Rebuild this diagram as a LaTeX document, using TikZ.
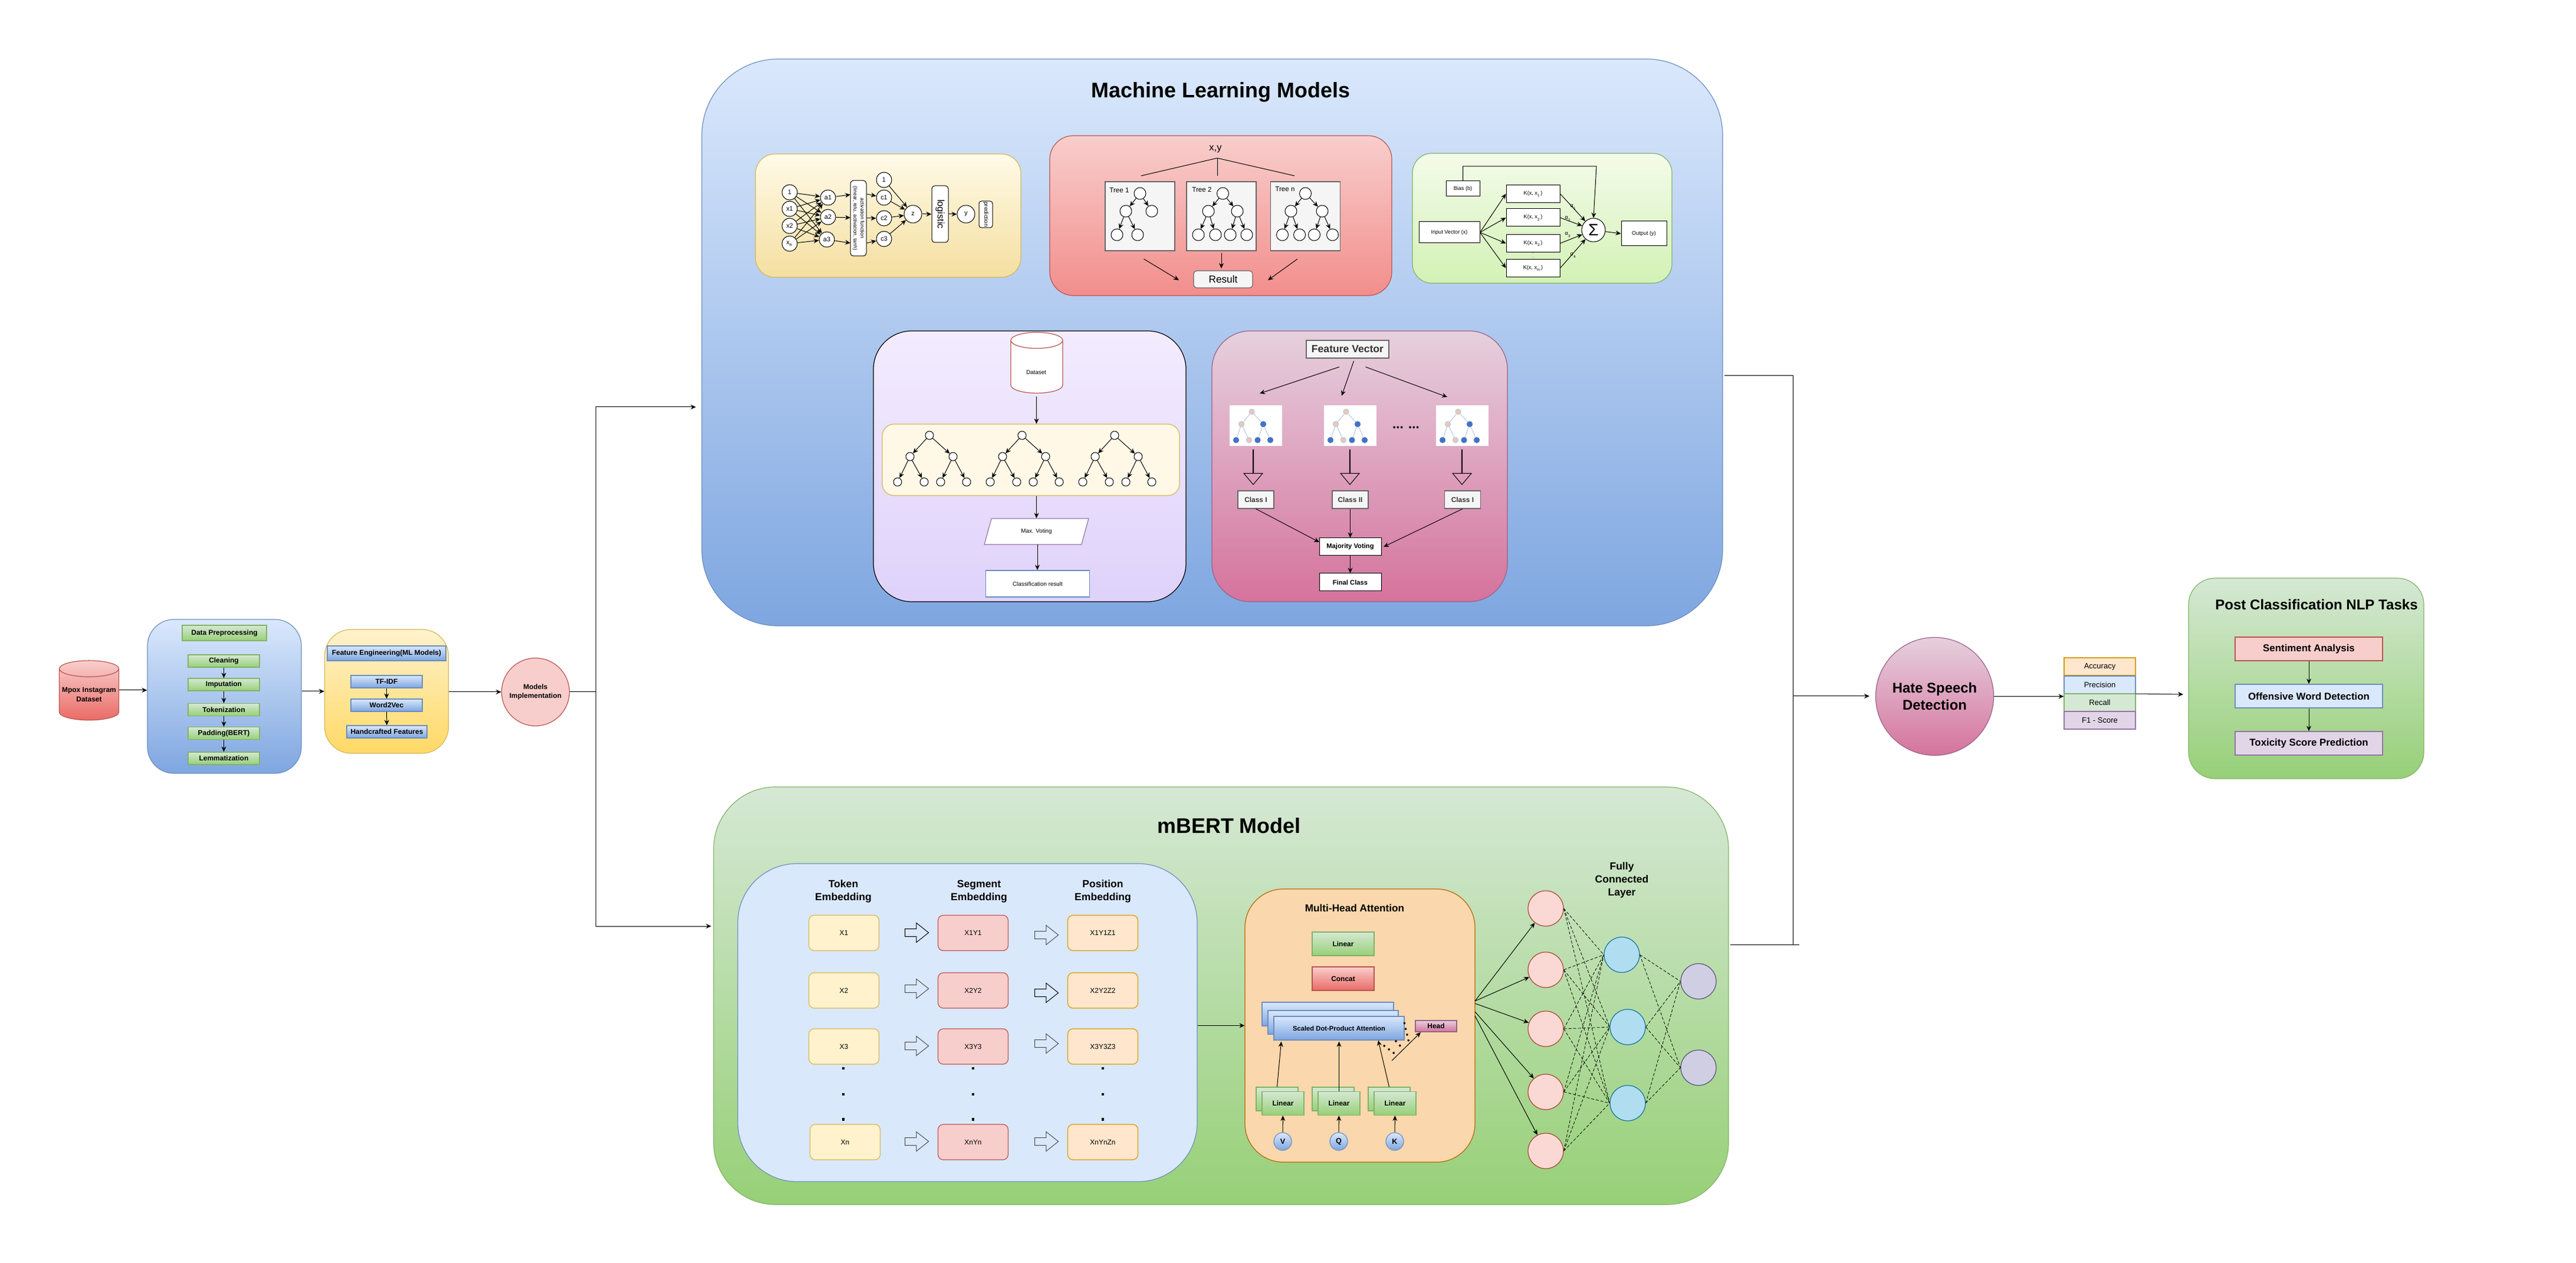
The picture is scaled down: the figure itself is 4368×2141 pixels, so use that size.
\documentclass[tikz,border=0pt]{standalone}
\usepackage{fontspec}
\setmainfont{Liberation Sans}
\usepackage{tikz}
\usetikzlibrary{positioning,shapes,arrows.meta}
\definecolor{bluetop}{HTML}{DAE8FC}
\definecolor{blueend}{HTML}{7EA6E0}
\definecolor{blueline}{HTML}{6C8EBF}
\definecolor{greentop}{HTML}{D5E8D4}
\definecolor{greenend}{HTML}{97D077}
\definecolor{greenline}{HTML}{82B366}
\definecolor{redtop}{HTML}{F8CECC}
\definecolor{redend}{HTML}{EA6B66}
\definecolor{redsoft}{HTML}{F28E8C}
\definecolor{redline}{HTML}{B85450}
\definecolor{yellowtop}{HTML}{FFF2CC}
\definecolor{yellowend}{HTML}{FFD966}
\definecolor{yellowline}{HTML}{D6B656}
\definecolor{nntop}{HTML}{FFFAE8}
\definecolor{nnend}{HTML}{F5DFA0}
\definecolor{svmtop}{HTML}{F4FBEA}
\definecolor{svmend}{HTML}{D3F2B5}
\definecolor{votetop}{HTML}{F3ECFE}
\definecolor{voteend}{HTML}{DFD2FB}
\definecolor{forestfill}{HTML}{FFF8E6}
\definecolor{pinktop}{HTML}{E6D0DE}
\definecolor{pinkend}{HTML}{D5739D}
\definecolor{pinkline}{HTML}{996185}
\definecolor{lilac}{HTML}{E1D5E7}
\definecolor{lilacline}{HTML}{9673A6}
\definecolor{peach}{HTML}{FFE6CC}
\definecolor{peachline}{HTML}{D79B00}
\definecolor{mhafill}{HTML}{FAD7AC}
\definecolor{mhaline}{HTML}{B46504}
\definecolor{greyfill}{HTML}{F5F5F5}
\definecolor{greyline}{HTML}{666666}
\definecolor{picpeachfill}{HTML}{F4C7A8}
\definecolor{picbluefill}{HTML}{4472C4}
\definecolor{picedge}{HTML}{B4C7E7}
\definecolor{neuronfill}{HTML}{FAD9D5}
\definecolor{neuronline}{HTML}{AE4132}
\definecolor{hiddenfill}{HTML}{B1DDF0}
\definecolor{hiddenline}{HTML}{10739E}
\definecolor{outfill}{HTML}{D0CEE2}
\definecolor{outline}{HTML}{56517E}
\tikzstyle{arrow} = [line width=.1mm,->]
\tikzstyle{thinline} = [line width=.1mm]
\tikzstyle{dashline} = [line width=.08mm,dash pattern=on .5mm off .3mm]
\tikzstyle{dotline} = [line width=.3mm,dash pattern=on .3mm off .7mm]
\tikzstyle{panel} = [rectangle, draw, inner sep=0, align=center]
\tikzstyle{bluefade} = [panel, top color=bluetop, bottom color=blueend, draw=blueline]
\tikzstyle{greenfade} = [panel, top color=greentop, bottom color=greenend, draw=greenline]
\tikzstyle{redfade} = [panel, top color=redtop, bottom color=redend, draw=redline]
\tikzstyle{yellowfade} = [panel, top color=yellowtop, bottom color=yellowend, draw=yellowline]
\tikzstyle{pinkfade} = [panel, top color=pinktop, bottom color=pinkend, draw=pinkline]
\tikzstyle{boldtext} = [font=\fontsize{3.4}{4.3}\selectfont\bfseries]
\tikzstyle{bigtitle} = [font=\fontsize{10.2}{12}\selectfont\bfseries]
\tikzstyle{midtitle} = [align=center, font=\fontsize{5}{6.2}\selectfont\bfseries]
\tikzstyle{prepblock} = [greenfade, boldtext, minimum width=12.1mm, minimum height=2.1mm]
\tikzstyle{featblock} = [bluefade, boldtext, minimum width=12.1mm, minimum height=2.1mm]
\tikzstyle{nncircle} = [circle, draw, fill=white, inner sep=0, minimum size=2.6mm, line width=.1mm, font=\fontsize{3.1}{4}\selectfont]
\tikzstyle{nnbig} = [nncircle, minimum size=3mm]
\tikzstyle{treenode} = [circle, draw, fill=white, inner sep=0, minimum size=2mm, line width=.1mm]
\tikzstyle{forestnode} = [treenode, minimum size=1.4mm]
\tikzstyle{treebox} = [panel, fill=greyfill, draw=greyline, minimum width=11.8mm, minimum height=11.7mm]
\tikzstyle{treelabel} = [font=\fontsize{3.3}{4}\selectfont]
\tikzstyle{svmbox} = [panel, fill=white, line width=.1mm, font=\fontsize{2.6}{3.2}\selectfont]
\tikzstyle{kernel} = [svmbox, minimum width=9.1mm, minimum height=3mm]
\tikzstyle{alphalabel} = [font=\fontsize{2.6}{3.2}\selectfont]
\tikzstyle{plainbox} = [font=\fontsize{2.8}{3.4}\selectfont]
\tikzstyle{picbox} = [rectangle, fill=white, inner sep=0, minimum width=8.9mm, minimum height=6.9mm]
\tikzstyle{picpeach} = [circle, draw=picedge, fill=picpeachfill, inner sep=0, minimum size=.9mm]
\tikzstyle{picblue} = [circle, draw=picbluefill, fill=picbluefill, inner sep=0, minimum size=.9mm]
\tikzstyle{picline} = [line width=.1mm, draw=picedge]
\tikzstyle{downblock} = [single arrow, draw, shape border rotate=270, inner xsep=0, inner ysep=.5mm, minimum height=5.9mm, minimum width=3.2mm, single arrow head extend=1.1mm, single arrow tip angle=80, line width=.1mm]
\tikzstyle{rightblock} = [single arrow, draw=black!70, inner xsep=0, inner ysep=.6mm, minimum height=4mm, minimum width=3.2mm, single arrow head extend=1mm, single arrow tip angle=77, line width=.1mm]
\tikzstyle{classbox} = [panel, boldtext, fill=greyfill, draw=greyline, text=black!80, minimum width=6.1mm, minimum height=3mm]
\tikzstyle{voteblock} = [panel, fill=white, line width=.1mm, font=\fontsize{3.2}{4}\selectfont\bfseries, minimum width=10.5mm, minimum height=3mm]
\tikzstyle{embedblock} = [panel, rounded corners=.9mm, minimum width=11.9mm, minimum height=6mm, font=\fontsize{3.4}{4}\selectfont]
\tikzstyle{tokenbox} = [embedblock, fill=yellowtop, draw=yellowline]
\tikzstyle{segmentbox} = [embedblock, fill=redtop, draw=redline]
\tikzstyle{positionbox} = [embedblock, fill=peach, draw=peachline]
\tikzstyle{embeddot} = [rectangle, fill=black, inner sep=0, minimum size=.45mm]
\tikzstyle{linearblock} = [greenfade, boldtext, minimum width=7.1mm, minimum height=4mm]
\tikzstyle{attnblock} = [bluefade, font=\fontsize{3.2}{4}\selectfont\bfseries]
\tikzstyle{inputcircle} = [circle, top color=bluetop, bottom color=blueend, draw=blueline, inner sep=0, minimum size=3mm, font=\fontsize{3.6}{4}\selectfont\bfseries]
\tikzstyle{pinkcircle} = [circle, draw=neuronline, fill=neuronfill, inner sep=0, minimum size=6mm]
\tikzstyle{bluecircle} = [circle, draw=hiddenline, fill=hiddenfill, inner sep=0, minimum size=6mm]
\tikzstyle{purplecircle} = [circle, draw=outline, fill=outfill, inner sep=0, minimum size=6mm]
\tikzstyle{metricblock} = [panel, minimum width=12.1mm, minimum height=3mm, font=\fontsize{3.7}{4.4}\selectfont]
\tikzstyle{taskblock} = [panel, minimum width=25mm, minimum height=4mm, font=\fontsize{4.8}{6}\selectfont\bfseries]
\begin{document}
\begin{tikzpicture}[x=.1mm, y=-.1mm, line width=.12mm, >={Stealth[length=.9mm,width=.8mm]}]
     \useasboundingbox (0,0) rectangle (4368,2141);

     \node [redfade, boldtext, cylinder, shape border rotate=90, aspect=.3, minimum width=10.1mm, minimum height=10.1mm] (dataset) at (151,1177.5) {Mpox Instagram\\Dataset};

     \node [bluefade, rounded corners=4.5mm, minimum width=26.1mm, minimum height=26.1mm] (prepbox) at (380.5,1180.5) { };
     \node [greenfade, boldtext, minimum width=14.3mm, minimum height=2.6mm] (preptitle) at (380.5,1073) {Data Preprocessing};
     \node [prepblock] (cleaning) at (379.5,1120.5) {Cleaning};
     \node [prepblock] (imputation) at (379.5,1160.5) {Imputation};
     \node [prepblock] (tokenization) at (379.5,1203) {Tokenization};
     \node [prepblock] (padding) at (379.5,1243) {Padding(BERT)};
     \node [prepblock] (lemmatization) at (379.5,1285.5) {Lemmatization};
     \draw [arrow] (cleaning) -- (imputation);
     \draw [arrow] (imputation) -- (tokenization);
     \draw [arrow] (tokenization) -- (padding);
     \draw [arrow] (padding) -- (lemmatization);
     \draw [arrow] (dataset.east |- 0,1170) -- (prepbox.west |- 0,1170);

     \node [yellowfade, rounded corners=4.5mm, minimum width=21mm, minimum height=21mm] (featbox) at (655.5,1172) { };
     \node [featblock, minimum width=20.1mm, minimum height=2.5mm] (feattitle) at (655.5,1107.5) {Feature Engineering(ML Models)};
     \node [featblock] (tfidf) at (655.5,1155.5) {TF-IDF};
     \node [featblock] (wordvec) at (655.5,1195.5) {Word2Vec};
     \node [featblock, minimum width=13.6mm] (handcrafted) at (656,1240.5) {Handcrafted Features};
     \draw [arrow] (tfidf) -- (wordvec);
     \draw [arrow] (wordvec) -- (handcrafted);
     \draw [arrow] (prepbox.east |- featbox.west) -- (featbox.west);

     \node [circle, draw=redline, fill=redtop, inner sep=0, minimum size=11.5mm, align=center, boldtext] (models) at (908,1173) {Models\\Implementation};
     \draw [arrow] (featbox.east |- models.west) -- (models.west);

     \coordinate (split) at (1010,1173);
     \coordinate (mlin) at (1180,690);
     \coordinate (bertin) at (1206,1570);
     \draw [thinline] (models.east) -- (split);
     \draw [arrow] (split) |- (mlin);
     \draw [arrow] (split) |- (bertin);

     \node [bluefade, rounded corners=13mm, minimum width=173.1mm, minimum height=96.1mm] (mlbox) at (2055.5,580.5) { };
     \node [bigtitle] (mltitle) at (2070,156) {Machine Learning Models};

     \node [panel, top color=nntop, bottom color=nnend, draw=yellowline, rounded corners=3.3mm, minimum width=45mm, minimum height=20.9mm] (nnbox) at (1506,365.5) { };
     \node [nncircle] (nnone) at (1339,326) {1};
     \node [nncircle] (nnxone) at (1339,354) {x1};
     \node [nncircle] (nnxtwo) at (1339,383) {x2};
     \node [nncircle] (nnxn) at (1339,413) {x\textsubscript{n}};
     \node [nncircle] (nnaone) at (1404,335) {a1};
     \node [nncircle] (nnatwo) at (1404,368) {a2};
     \node [nncircle] (nnathree) at (1402,406) {a3};
     \node [panel, fill=white, rotate=-90, rounded corners=.5mm, line width=.1mm, minimum width=12.8mm, minimum height=2.7mm, font=\fontsize{2.45}{3.4}\selectfont] (activation) at (1455.5,370) {activation function\\(linear, relu, activation, tanh)};
     \node [nncircle] (nntop) at (1499,305) {1};
     \node [nncircle] (nncone) at (1499,335) {c1};
     \node [nncircle] (nnctwo) at (1499,370) {c2};
     \node [nncircle] (nncthree) at (1499,405) {c3};
     \node [nnbig] (nnz) at (1548,363) {z};
     \node [panel, fill=white, rotate=-90, rounded corners=.5mm, line width=.1mm, minimum width=9.6mm, minimum height=2.8mm, font=\fontsize{4.6}{5}\selectfont] (logistic) at (1594,363) {logistic};
     \node [nnbig] (nny) at (1638,363) {y};
     \node [panel, fill=white, rotate=-90, rounded corners=.4mm, line width=.1mm, minimum width=4.5mm, minimum height=2.3mm, font=\fontsize{2.75}{3}\selectfont] (prediction) at (1671.5,363.5) {prediction};
     \foreach \s in {nnone,nnxone,nnxtwo,nnxn}
       \foreach \t in {nnaone,nnatwo,nnathree}
         \draw [arrow] (\s) -- (\t);
     \coordinate (actinone) at (1442,330);
     \coordinate (actintwo) at (1442,369);
     \coordinate (actinthree) at (1442,412);
     \coordinate (actoutone) at (1470,329);
     \coordinate (actouttwo) at (1470,370);
     \coordinate (actoutthree) at (1470,412);
     \draw [arrow] (nnaone) -- (actinone);
     \draw [arrow] (nnatwo) -- (actintwo);
     \draw [arrow] (nnathree) -- (actinthree);
     \draw [arrow] (actoutone) -- (nncone);
     \draw [arrow] (actouttwo) -- (nnctwo);
     \draw [arrow] (actoutthree) -- (nncthree);
     \foreach \s in {nntop,nncone,nnctwo,nncthree}
       \draw [arrow] (\s) -- (nnz);
     \draw [arrow] (nnz) -- (logistic);
     \draw [arrow] (logistic) -- (nny);

     \node [redfade, bottom color=redsoft, rounded corners=4mm, minimum width=58mm, minimum height=27.1mm] (rfbox) at (2070,365.5) { };
     \node [font=\fontsize{4.7}{5}\selectfont] (xylabel) at (2061,253) {x,y};
     \coordinate (xyfork) at (2064,268);
     \coordinate (xyleft) at (1935,298);
     \coordinate (xymid) at (2064,298);
     \coordinate (xyright) at (2195,298);
     \draw [thinline] (xyfork) -- (xyleft);
     \draw [thinline] (xyfork) -- (xymid);
     \draw [thinline] (xyfork) -- (xyright);
     \node [treebox] (treeone) at (1933,366.5) { };
     \node [treebox] (treetwo) at (2071,366.5) { };
     \node [treebox] (treen) at (2213.5,366.5) { };
     \node [treelabel] (treeonelabel) at (1898,323) {Tree 1};
     \node [treelabel] (treetwolabel) at (2038,322) {Tree 2};
     \node [treelabel] (treenlabel) at (2179,321) {Tree n};
     \foreach \n/\x/\y in {r/1933/328,a/1909/358,b/1953/358,c/1894/398,d/1929/398}
       \node [treenode] (one\n) at (\x,\y) { };
     \foreach \a/\b in {r/a,r/b,a/c,a/d}
       \draw [arrow] (one\a) -- (one\b);
     \foreach \n/\x/\y in {r/2073.5/328,a/2049/358,b/2098/358,c/2032/398,d/2061/398,e/2086/398,f/2114/398}
       \node [treenode] (two\n) at (\x,\y) { };
     \foreach \n/\x/\y in {r/2213.5/328,a/2189/358,b/2242/358,c/2174.5/398,d/2203.6/398,e/2228.5/398,f/2259.5/398}
       \node [treenode] (last\n) at (\x,\y) { };
     \foreach \t in {two,last}
       \foreach \a/\b in {r/a,r/b,a/c,a/d,b/e,b/f}
         \draw [arrow] (\t\a) -- (\t\b);
     \node [panel, fill=greyfill, draw=greyline, rounded corners=.6mm, minimum width=10mm, minimum height=2.9mm, font=\fontsize{4.9}{5}\selectfont] (result) at (2074,473.5) {Result};
     \coordinate (fromone) at (1939.5,439);
     \coordinate (toone) at (1999,475);
     \coordinate (fromtwo) at (2071,429);
     \coordinate (totwo) at (2071,455);
     \coordinate (fromn) at (2200,439);
     \coordinate (ton) at (2150,475);
     \draw [arrow] (fromone) -- (toone);
     \draw [arrow] (fromtwo) -- (totwo);
     \draw [arrow] (fromn) -- (ton);

     \node [panel, top color=svmtop, bottom color=svmend, draw=greenline, rounded corners=3.3mm, minimum width=44mm, minimum height=22mm] (svmpanel) at (2615,370) { };
     \node [svmbox, minimum width=5.7mm, minimum height=2.6mm] (bias) at (2480.5,320) {Bias (b)};
     \node [svmbox, minimum width=10.3mm, minimum height=3.6mm] (inputvec) at (2457.5,394) {Input Vector (x)};
     \node [kernel] (kone) at (2599.5,328.5) {K(x, x\textsubscript{1})};
     \node [kernel] (ktwo) at (2599.5,369) {K(x, x\textsubscript{2})};
     \node [kernel] (kthree) at (2599.5,412.5) {K(x, x\textsubscript{3})};
     \node [kernel] (km) at (2599.5,454.5) {K(x, x\textsubscript{m})};
     \node [circle, draw, fill=white, inner sep=0, minimum size=4mm, line width=.1mm, font=\fontsize{8}{9}\selectfont] (sigma) at (2702,390) {Σ};
     \node [svmbox, minimum width=7.7mm, minimum height=4.2mm] (output) at (2787.5,396) {Output (y)};
     \node [alphalabel] (alphaone) at (2668,351) {α\textsubscript{1}};
     \node [alphalabel] (alphatwo) at (2659,371) {α\textsubscript{2}};
     \node [alphalabel] (alphathree) at (2659,398) {α\textsubscript{3}};
     \node [alphalabel] (alphafour) at (2668,433) {α\textsubscript{4}};
     \coordinate (biastop) at (2707,282);
     \draw [arrow] (bias.north) |- (biastop) -- (sigma.north);
     \foreach \k in {kone,ktwo,kthree,km} {
       \draw [arrow] (inputvec.east) -- (\k.west);
       \draw [arrow] (\k.east) -- (sigma);
     }
     \draw [line width=.08mm, dotted, greyline] (kthree.south) -- (km.north);
     \draw [arrow] (sigma) -- (output.west);

     \node [panel, top color=votetop, bottom color=voteend, rounded corners=6.5mm, minimum width=53mm, minimum height=45.9mm] (votebox) at (1746,790.5) { };
     \node [panel, cylinder, shape border rotate=90, aspect=.8, fill=white, draw=redline, plainbox, minimum width=8.8mm, minimum height=10.3mm] (dbcyl) at (1758,622) {\phantom{Dataset}};
     \node [plainbox] (dbtext) at (1757,631) {Dataset};
     \node [panel, fill=forestfill, draw=yellowline, rounded corners=2mm, minimum width=50.4mm, minimum height=12.1mm] (forest) at (1748,779.5) { };
     \foreach \t/\d in {p/0,q/157,s/314} {
       \foreach \n/\x/\y in {r/1576/738,a/1543/774,b/1616/774,c/1522/817,d/1567/817,e/1595/817,f/1639/817}
         \node [forestnode] (\t\n) at (\x+\d,\y) { };
       \foreach \a/\b in {r/a,r/b,a/c,a/d,b/e,b/f}
         \draw [arrow] (\t\a) -- (\t\b);
     }
     \node [panel, trapezium, trapezium stretches=true, trapezium left angle=65.6, trapezium right angle=114.4, fill=white, draw=lilacline, plainbox, minimum width=17.7mm, minimum height=4.4mm] (maxvote) at (1757.5,901) {Max. Voting};
     \node [panel, fill=white, draw=blueline, plainbox, minimum width=17.6mm, minimum height=4.5mm] (classresult) at (1759.5,989.5) {Classification result};
     \coordinate (dbout) at (1757.5,672);
     \draw [arrow] (dbout) -- (dbout |- forest.north);
     \draw [arrow] (forest.south -| dbout) -- (dbout |- maxvote.north);
     \coordinate (voteout) at (1759,923);
     \draw [arrow] (voteout) -- (voteout |- classresult.north);

     \node [pinkfade, rounded corners=6.5mm, minimum width=50.1mm, minimum height=45.9mm] (gbbox) at (2305.5,790.5) { };
     \node [classbox, minimum width=14mm, font=\fontsize{5}{6}\selectfont\bfseries] (featvec) at (2285,592) {Feature Vector};
     \coordinate (fvaout) at (2271,622);
     \coordinate (fvain) at (2136,667);
     \coordinate (fvbout) at (2295.5,612);
     \coordinate (fvbin) at (2275,671);
     \coordinate (fvcout) at (2315.5,622);
     \coordinate (fvcin) at (2454,673);
     \draw [arrow] (fvaout) -- (fvain);
     \draw [arrow] (fvbout) -- (fvbin);
     \draw [arrow] (fvcout) -- (fvcin);
     \foreach \t/\x in {a/2085,b/2245,c/2435} {
       \node [picbox] (pic\t) at (\x+44.5,721.5) { };
       \node [picpeach] (pic\t r) at (\x+37.5,698) { };
       \node [picpeach] (pic\t l) at (\x+20,719) { };
       \node [picblue] (pic\t m) at (\x+57,719) { };
       \node [picblue] (pic\t u) at (\x+11,746) { };
       \node [picpeach] (pic\t v) at (\x+33,746) { };
       \node [picblue] (pic\t w) at (\x+47.5,746) { };
       \node [picblue] (pic\t o) at (\x+69,746) { };
       \foreach \a/\b in {r/l,r/m,l/u,l/v,m/w,m/o}
         \draw [picline] (pic\t\a) -- (pic\t\b);
     }
     \node [font=\fontsize{6.4}{7}\selectfont\bfseries] (moredots) at (2384,725) {... ...};
     \node [downblock] (downa) at (2125,791.5) { };
     \node [downblock] (downb) at (2289,791.5) { };
     \node [downblock] (downc) at (2479,791.5) { };
     \node [classbox] (classa) at (2129.5,847) {Class I};
     \node [classbox] (classb) at (2289.5,847) {Class II};
     \node [classbox] (classc) at (2480,847) {Class I};
     \node [voteblock] (majority) at (2289.5,927) {Majority Voting};
     \node [voteblock] (finalclass) at (2289.5,987) {Final Class};
     \coordinate (majleft) at (2237,919);
     \coordinate (majright) at (2346,927);
     \draw [arrow] (classa.south) -- (majleft);
     \draw [arrow] (classb.south) -- (majority.north);
     \draw [arrow] (classc.south) -- (majright);
     \draw [arrow] (majority) -- (finalclass);

     \node [greenfade, rounded corners=10.5mm, minimum width=172.1mm, minimum height=70.8mm] (bertbox) at (2070.5,1688) { };
     \node [bigtitle] (berttitle) at (2084,1400) {mBERT Model};

     \node [panel, fill=bluetop, draw=blueline, rounded corners=10mm, minimum width=77.9mm, minimum height=53.9mm] (embedbox) at (1640.5,1733.5) { };
     \node [midtitle] (tokentitle) at (1430,1511) {Token\\Embedding};
     \node [midtitle] (segmenttitle) at (1660,1511) {Segment\\Embedding};
     \node [midtitle] (positiontitle) at (1870,1511) {Position\\Embedding};
     \node [tokenbox] (tokena) at (1431,1581.5) {X1};
     \node [tokenbox] (tokenb) at (1431,1679) {X2};
     \node [tokenbox] (tokenc) at (1431,1774) {X3};
     \node [tokenbox] (tokend) at (1433,1936) {Xn};
     \node [segmentbox] (segmenta) at (1650,1581.5) {X1Y1};
     \node [segmentbox] (segmentb) at (1650,1679) {X2Y2};
     \node [segmentbox] (segmentc) at (1650,1774) {X3Y3};
     \node [segmentbox] (segmentd) at (1650,1936) {XnYn};
     \node [positionbox] (positiona) at (1870,1581.5) {X1Y1Z1};
     \node [positionbox] (positionb) at (1870,1679) {X2Y2Z2};
     \node [positionbox] (positionc) at (1870,1774) {X3Y3Z3};
     \node [positionbox] (positiond) at (1870,1936) {XnYnZn};
     \node [rightblock, draw=black] (stepa) at (1550.5,1581) { };
     \node [rightblock] (stepb) at (1550.5,1676) { };
     \node [rightblock] (stepc) at (1550.5,1773) { };
     \node [rightblock] (stepd) at (1550.5,1935) { };
     \node [rightblock] (stepe) at (1770.5,1585) { };
     \node [rightblock, draw=black] (stepf) at (1770.5,1683) { };
     \node [rightblock] (stepg) at (1770.5,1769) { };
     \node [rightblock] (steph) at (1770.5,1935) { };
     \foreach \c/\x in {a/1430,b/1650,c/1870}
       \foreach \r/\y in {a/1811,b/1855,c/1897.5}
         \node [embeddot] (dot\c\r) at (\x,\y) { };

     \node [panel, fill=mhafill, draw=mhaline, rounded corners=6.5mm, minimum width=39mm, minimum height=46.3mm] (mhabox) at (2306,1738.5) { };
     \node [font=\fontsize{4.9}{6}\selectfont\bfseries] (mhatitle) at (2297,1539) {Multi-Head Attention};
     \node [greenfade, boldtext, minimum width=10.5mm, minimum height=4mm] (toplinear) at (2277.5,1600) {Linear};
     \node [redfade, boldtext, minimum width=10.5mm, minimum height=4mm] (concat) at (2277.5,1659) {Concat};
     \node [attnblock, minimum width=22.3mm, minimum height=4mm] (attnback) at (2251.5,1719) { };
     \node [attnblock, minimum width=22.1mm, minimum height=4mm] (attnmid) at (2260.5,1733) { };
     \node [attnblock, minimum width=22.1mm, minimum height=4mm] (attnfront) at (2270.5,1743) {Scaled Dot-Product Attention};
     \node [pinkfade, boldtext, minimum width=7mm, minimum height=1.9mm] (headbox) at (2435,1739.5) {Head};
     \node [linearblock] (lineavback) at (2165.5,1863) { };
     \node [linearblock] (lineav) at (2175.5,1870.5) {Linear};
     \node [linearblock] (lineaqback) at (2260.5,1863) { };
     \node [linearblock] (lineaq) at (2270.5,1870.5) {Linear};
     \node [linearblock] (lineakback) at (2355.5,1863) { };
     \node [linearblock] (lineak) at (2365.5,1870.5) {Linear};
     \node [inputcircle] (inputv) at (2175,1935) {V};
     \node [inputcircle] (inputq) at (2270,1935) {Q};
     \node [inputcircle] (inputk) at (2365,1935) {K};
     \draw [arrow] (inputv) -- (lineav);
     \draw [arrow] (inputq) -- (lineaq);
     \draw [arrow] (inputk) -- (lineak);
     \draw [arrow] (lineavback.north) -- ([xshift=-9.8mm, yshift=-.2mm]attnfront.south);
     \draw [arrow] (lineaq.north) -- ([yshift=-.2mm]attnfront.south);
     \draw [arrow] (lineakback.north) -- ([xshift=6.65mm]attnfront.south);
     \coordinate (headfrom) at (2360,1798);
     \coordinate (headinto) at (2409,1750);
     \draw [arrow] (headfrom) -- (headinto);
     \coordinate (dotaa) at (2381,1733);
     \coordinate (dotab) at (2389,1767);
     \coordinate (dotba) at (2366,1764);
     \coordinate (dotbb) at (2378,1777);
     \coordinate (dotca) at (2346,1772);
     \coordinate (dotcb) at (2366,1787);
     \draw [dotline] (dotaa) -- (dotab);
     \draw [dotline] (dotba) -- (dotbb);
     \draw [dotline] (dotca) -- (dotcb);
     \draw [arrow] (embedbox.east |- mhabox.west) -- (mhabox.west);

     \node [midtitle, align=center] (fctitle) at (2750,1492) {Fully\\Connected\\Layer};
     \node [pinkcircle] (pinka) at (2621,1540) { };
     \node [pinkcircle] (pinkb) at (2621,1644) { };
     \node [pinkcircle] (pinkc) at (2621,1744) { };
     \node [pinkcircle] (pinkd) at (2621,1851) { };
     \node [pinkcircle] (pinke) at (2621,1951) { };
     \node [bluecircle] (bluea) at (2750,1618.5) { };
     \node [bluecircle] (blueb) at (2760,1741) { };
     \node [bluecircle] (bluec) at (2760,1870) { };
     \node [purplecircle] (purplea) at (2880,1663.5) { };
     \node [purplecircle] (purpleb) at (2880,1810) { };
     \coordinate (fanouta) at (2501,1697);
     \coordinate (fanoutb) at (2501,1701);
     \coordinate (fanoutc) at (2501,1715);
     \coordinate (fanoutd) at (2501,1722);
     \draw [arrow] (fanouta) -- (pinka);
     \draw [arrow] (fanouta) -- (pinkb);
     \draw [arrow] (fanoutb) -- (pinkc);
     \draw [arrow] (fanoutc) -- (pinkd);
     \draw [arrow] (fanoutd) -- (pinke);
     \foreach \p in {a,b,c,d,e}
       \foreach \q in {a,b,c}
         \draw [dashline] (pink\p.east) -- (blue\q.west);
     \foreach \q in {a,b,c}
       \foreach \r in {a,b}
         \draw [dashline] (blue\q.east) -- (purple\r.west);

     \coordinate (mlout) at (2924,637);
     \coordinate (mljoin) at (3040,637);
     \coordinate (bertout) at (2934,1601);
     \coordinate (bertend) at (3051,1601);
     \coordinate (bertjoin) at (3040,1601);
     \coordinate (hatejoin) at (3040,1180);
     \coordinate (hatein) at (3170,1180);
     \draw [thinline] (mlout) -- (mljoin) -- (bertjoin);
     \draw [thinline] (bertout) -- (bertend);
     \draw [arrow] (hatejoin) -- (hatein);

     \node [circle, top color=pinktop, bottom color=pinkend, draw=pinkline, inner sep=0, minimum size=20mm, align=center, font=\fontsize{6.8}{8}\selectfont\bfseries] (hate) at (3280.5,1180.5) {Hate Speech\\Detection};
     \node [metricblock, fill=peach, draw=peachline] (accuracy) at (3560.5,1130) {Accuracy};
     \node [metricblock, fill=bluetop, draw=blueline] (precision) at (3560.5,1161) {Precision};
     \node [metricblock, fill=greentop, draw=greenline] (recall) at (3560.5,1191) {Recall};
     \node [metricblock, fill=lilac, draw=lilacline] (fscore) at (3560.5,1221) {F1 - Score};
     \draw [arrow] (hate.east) -- (hate.east -| accuracy.west);

     \node [greenfade, rounded corners=4.5mm, minimum width=39.9mm, minimum height=34mm] (postbox) at (3910.5,1150) { };
     \node [font=\fontsize{6.85}{8}\selectfont\bfseries] (posttitle) at (3928,1025) {Post Classification NLP Tasks};
     \node [taskblock, fill=redtop, draw=redline] (sentiment) at (3915,1100) {Sentiment Analysis};
     \node [taskblock, fill=bluetop, draw=blueline] (offensive) at (3915,1180) {Offensive Word Detection};
     \node [taskblock, fill=lilac, draw=lilacline] (toxicity) at (3915,1260) {Toxicity Score Prediction};
     \draw [arrow] (sentiment) -- (offensive);
     \draw [arrow] (offensive) -- (toxicity);
     \coordinate (metricout) at (3621,1176);
     \coordinate (postin) at (3702,1177);
     \draw [arrow] (metricout) -- (postin);
\end{tikzpicture}
\end{document}
